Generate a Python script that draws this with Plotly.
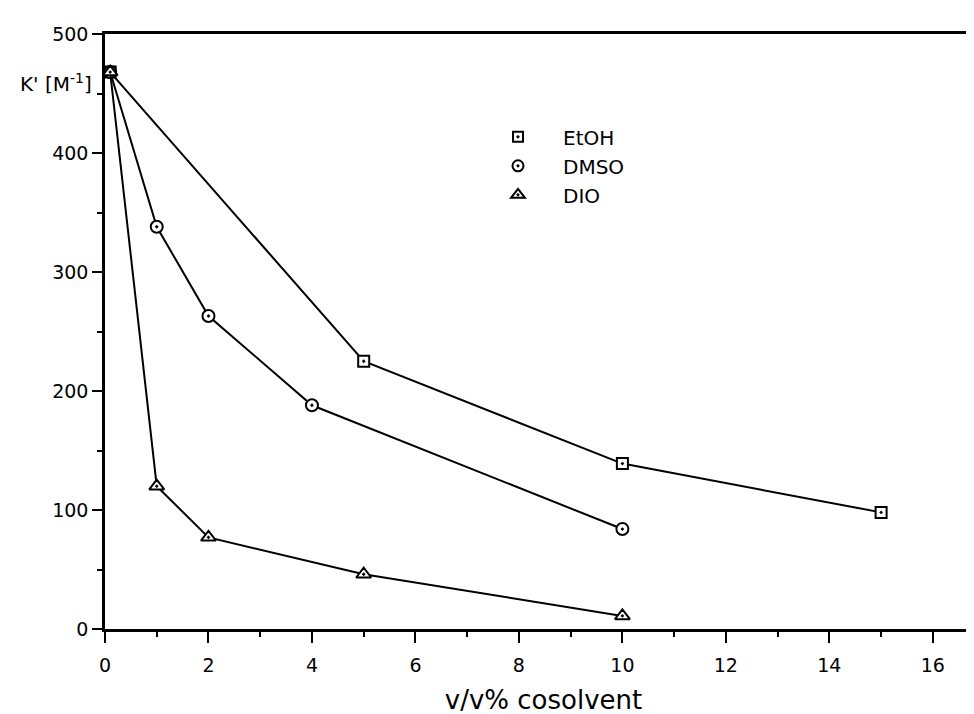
import plotly.graph_objects as go

# data
etoh_x = [0.1, 5, 10, 15]
etoh_y = [468, 225, 139, 98]
dmso_x = [0.1, 1, 2, 4, 10]
dmso_y = [468, 338, 263, 188, 84]
dio_x = [0.1, 1, 2, 5, 10]
dio_y = [468, 120, 77, 46, 11]

series = [
    ("EtOH", etoh_x, etoh_y, "square-dot", 11),
    ("DMSO", dmso_x, dmso_y, "circle-dot", 12),
    ("DIO", dio_x, dio_y, "triangle-up-dot", 13),
]

x_ticks = [0, 2, 4, 6, 8, 10, 12, 14, 16]
y_ticks = [0, 100, 200, 300, 400, 500]

fig = go.Figure()
for name, xs, ys, sym, sz in series:
    fig.add_trace(go.Scatter(
        x=xs, y=ys, mode="lines+markers", showlegend=False,
        line=dict(color="black", width=2),
        marker=dict(symbol=sym, size=sz, color="white",
                    line=dict(color="black", width=2)),
        cliponaxis=False,
    ))
for name, xs, ys, sym, sz in series:
    fig.add_trace(go.Scatter(
        x=[None], y=[None], mode="markers", name=name,
        marker=dict(symbol=sym, size=sz - 1, color="white",
                    line=dict(color="black", width=2)),
    ))

font_family = "DejaVu Sans, sans-serif"
fig.update_layout(
    width=974, height=714,
    margin=dict(l=97, r=0, t=26, b=93),
    paper_bgcolor="white", plot_bgcolor="white",
    font=dict(family=font_family, color="black", size=19),
    showlegend=True,
    legend=dict(x=0.4196, y=0.86, xanchor="left", yanchor="top",
                bgcolor="rgba(0,0,0,0)", font=dict(size=20),
                itemwidth=80, tracegroupgap=0),
    xaxis=dict(
        range=[0, 16.95], tickvals=x_ticks, showgrid=False, zeroline=False,
        automargin=False,
        showline=True, linecolor="black", linewidth=2.5, mirror=True,
        ticks="outside", ticklen=11, tickwidth=2, tickcolor="black",
        ticklabelstandoff=6,
        minor=dict(dtick=1, tick0=0, ticks="outside", ticklen=5,
                   tickwidth=2, tickcolor="black"),
        tickfont=dict(size=19),
        title=dict(text="v/v% cosolvent", font=dict(size=26), standoff=17),
    ),
    yaxis=dict(
        range=[0, 500], tickvals=y_ticks,
        showgrid=False, zeroline=False, automargin=False,
        showline=True, linecolor="black", linewidth=2.5, mirror=False,
        ticks="outside", ticklen=10, tickwidth=2, tickcolor="black",
        minor=dict(dtick=50, tick0=0, ticks="outside",
                   ticklen=5, tickwidth=2, tickcolor="black"),
        tickfont=dict(size=19),
    ),
    annotations=[dict(
        text="K' [M<sup>-1</sup>]", xref="paper", yref="paper",
        x=-0.0992, y=0.918, xanchor="left", yanchor="middle",
        showarrow=False, font=dict(size=20),
    )],
)

fig.write_html("out.html")
